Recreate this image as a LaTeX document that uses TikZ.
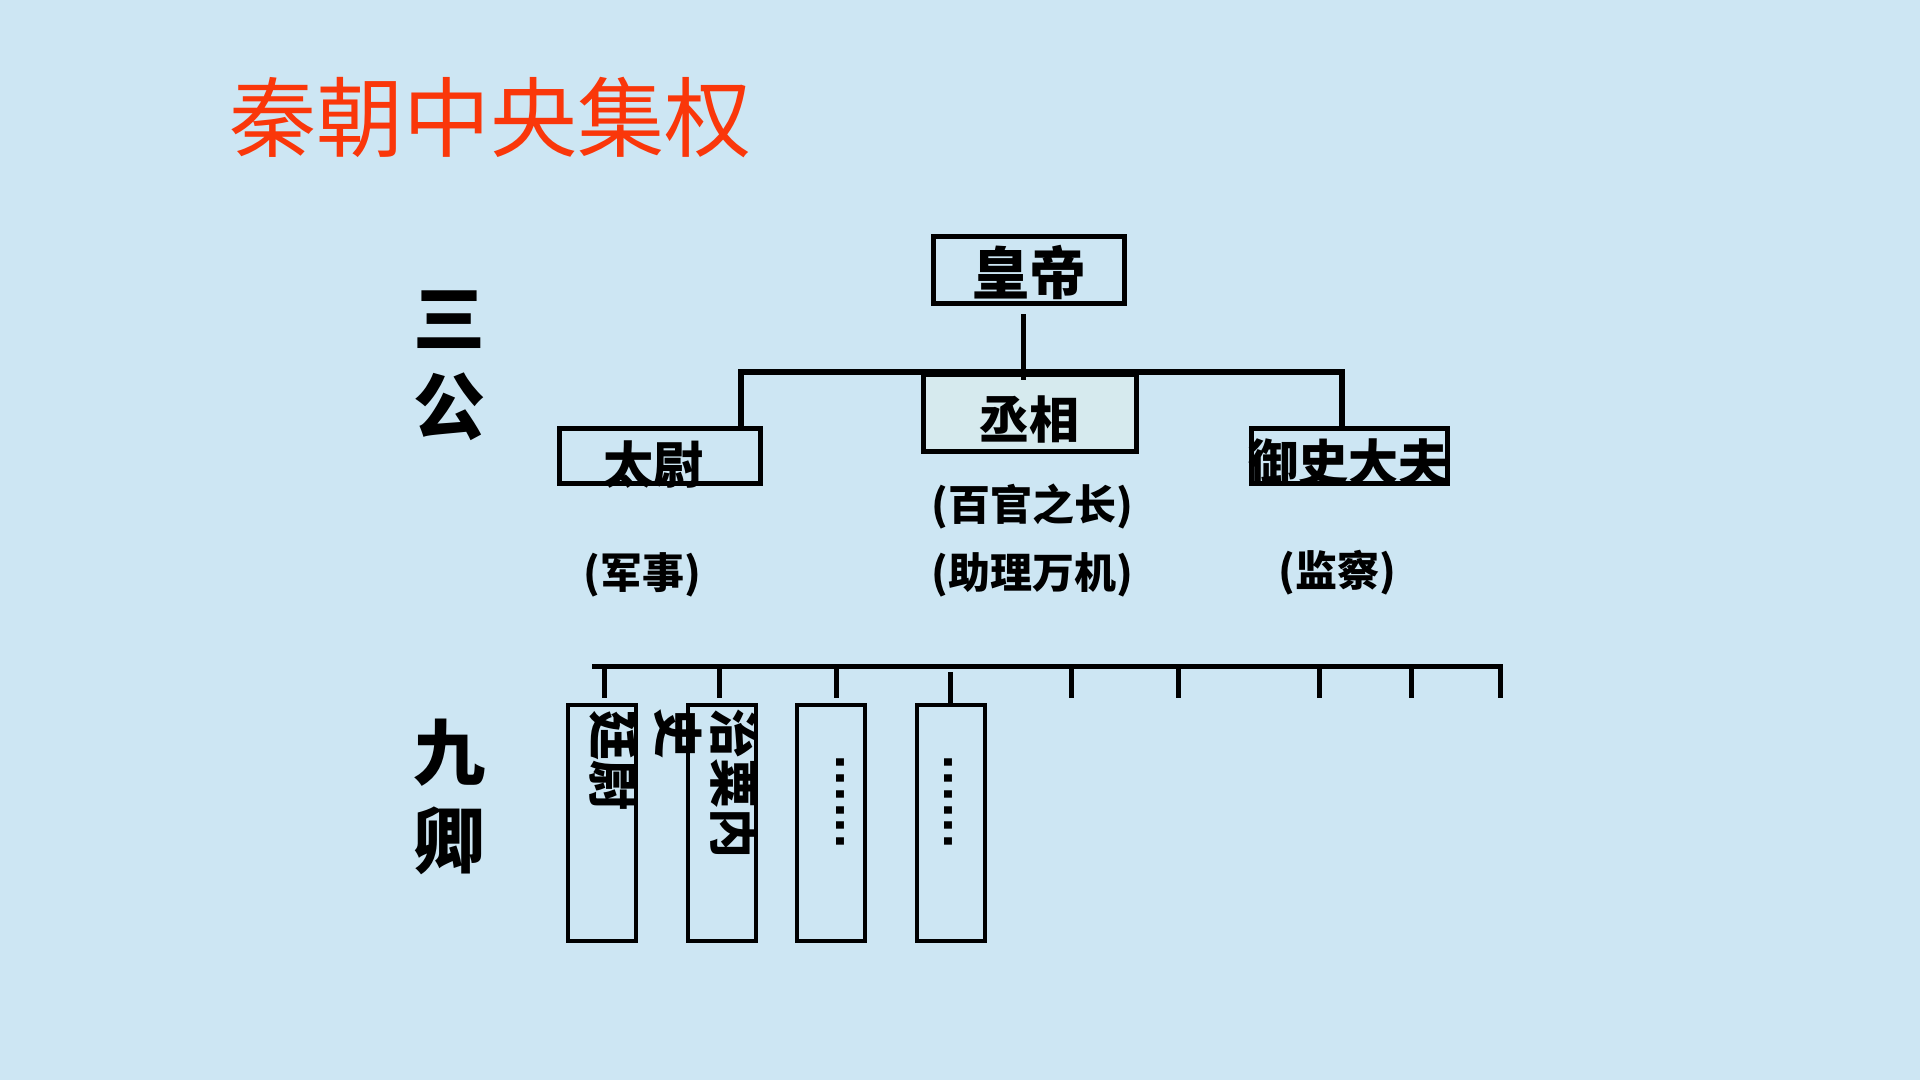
\documentclass[tikz,border=0pt]{standalone}
\usepackage{fontspec}
\newfontfamily\cjk{Noto Sans CJK SC}
\newfontfamily\dejab{DejaVu Sans}
\definecolor{bg}{RGB}{205,230,243}
\definecolor{titlered}{RGB}{250,55,10}
\definecolor{boxfill}{RGB}{214,234,238}
\begin{document}
\begin{tikzpicture}[x=1pt,y=-1pt,
  topbox/.style={draw=black, line width=5pt, inner sep=0pt},
  lowbox/.style={draw=black, line width=4pt, inner sep=0pt, minimum width=68pt, minimum height=236pt},
  txt/.style={inner sep=0pt, outer sep=0pt, text=black},
  big/.style={txt, font=\cjk\bfseries\fontsize{50}{60}\selectfont},
  lbl/.style={txt, font=\cjk\bfseries\fontsize{42}{50}\selectfont},
  side/.style={txt, align=center, font=\cjk\bfseries\fontsize{72}{88}\selectfont},
  conn/.style={draw=black, line width=5pt},
  barline/.style={draw=black, line width=6pt},
  tickline/.style={draw=black, line width=5pt},
  dotcol/.style={txt, rotate=-90, anchor=base, font=\dejab\bfseries\fontsize{42}{50}\selectfont}
]
\useasboundingbox (0,0) rectangle (1920,1080);
\fill[bg] (0,0) rectangle (1920,1080);

% title
\node[txt, anchor=west, text=titlered, font=\cjk\fontsize{87}{100}\selectfont] (title) at (229,118) {秦朝中央集权};

% side labels
\node[side] (sangong) at (449,366) {三\\公};
\node[side] (jiuqing) at (449,797) {九\\卿};

% top boxes
\node[topbox, minimum width=191pt, minimum height=67pt] (emp) at (1029,270) {};
\node[topbox, fill=boxfill, minimum width=213pt, minimum height=77pt] (cx) at (1030,413) {};
\node[topbox, minimum width=201pt, minimum height=55pt] (taiwei) at (660,456) {};
\node[topbox, minimum width=196pt, minimum height=55pt] (yushi) at (1349.5,456) {};

\node[txt, font=\cjk\bfseries\fontsize{57}{66}\selectfont] (empt) at (1029,272) {皇帝};
\node[big] (cxt) at (1029,419) {丞相};
\node[big] (taiweit) at (653,465) {太尉};
\node[big] (yushit) at (1348,463) {御史大夫};

\node[lbl] (l1) at (1032,507) {(百官之长)};
\node[lbl] (l2) at (1032,575) {(助理万机)};
\node[lbl] (l3) at (642,575) {(军事)};
\node[lbl] (l4) at (1337,573) {(监察)};

% top connectors
\coordinate (e1) at (1023,314);
\coordinate (e2) at (1023,380);
\coordinate (bl) at (741,372);
\coordinate (br) at (1342,372);
\draw[conn] (e1) -- (e2);
\draw[barline] (taiwei.north -| bl) -- (bl) -- (br) -- (yushi.north -| br);

% lower boxes
\node[lowbox] (b1) at (602,823) {};
\node[lowbox] (b2) at (722,823) {};
\node[lowbox] (b3) at (831,823) {};
\node[lowbox] (b4) at (951,823) {};

\node[big, rotate=-90] (t1) at (614,760) {廷尉};
\node[big, rotate=-90, align=left, anchor=north west, font=\cjk\bfseries\fontsize{50}{56}\selectfont] (t2) at (758,708) {治粟内\\史};
\node[dotcol] (d3) at (836.5,802) {......};
\node[dotcol] (d4) at (944.5,802) {......};

% lower connectors
\coordinate (ql) at (592,666);
\coordinate (qr) at (1500,666);
\coordinate (qrd) at (1500,698);
\draw[barline, line width=5pt] (ql) -- (qr) -- (qrd);
\coordinate (k1) at (604,698);
\coordinate (k2) at (719,698);
\coordinate (k3) at (836,698);
\coordinate (k4a) at (950,672);
\coordinate (k4) at (950,706);
\coordinate (k5) at (1071,698);
\coordinate (k6) at (1178,698);
\coordinate (k7) at (1319,698);
\coordinate (k8) at (1411,698);
\draw[tickline] (ql -| k1) -- (k1);
\draw[tickline] (ql -| k2) -- (k2);
\draw[tickline] (ql -| k3) -- (k3);
\draw[tickline] (k4a) -- (k4);
\draw[tickline] (ql -| k5) -- (k5);
\draw[tickline] (ql -| k6) -- (k6);
\draw[tickline] (ql -| k7) -- (k7);
\draw[tickline] (ql -| k8) -- (k8);
\end{tikzpicture}
\end{document}
